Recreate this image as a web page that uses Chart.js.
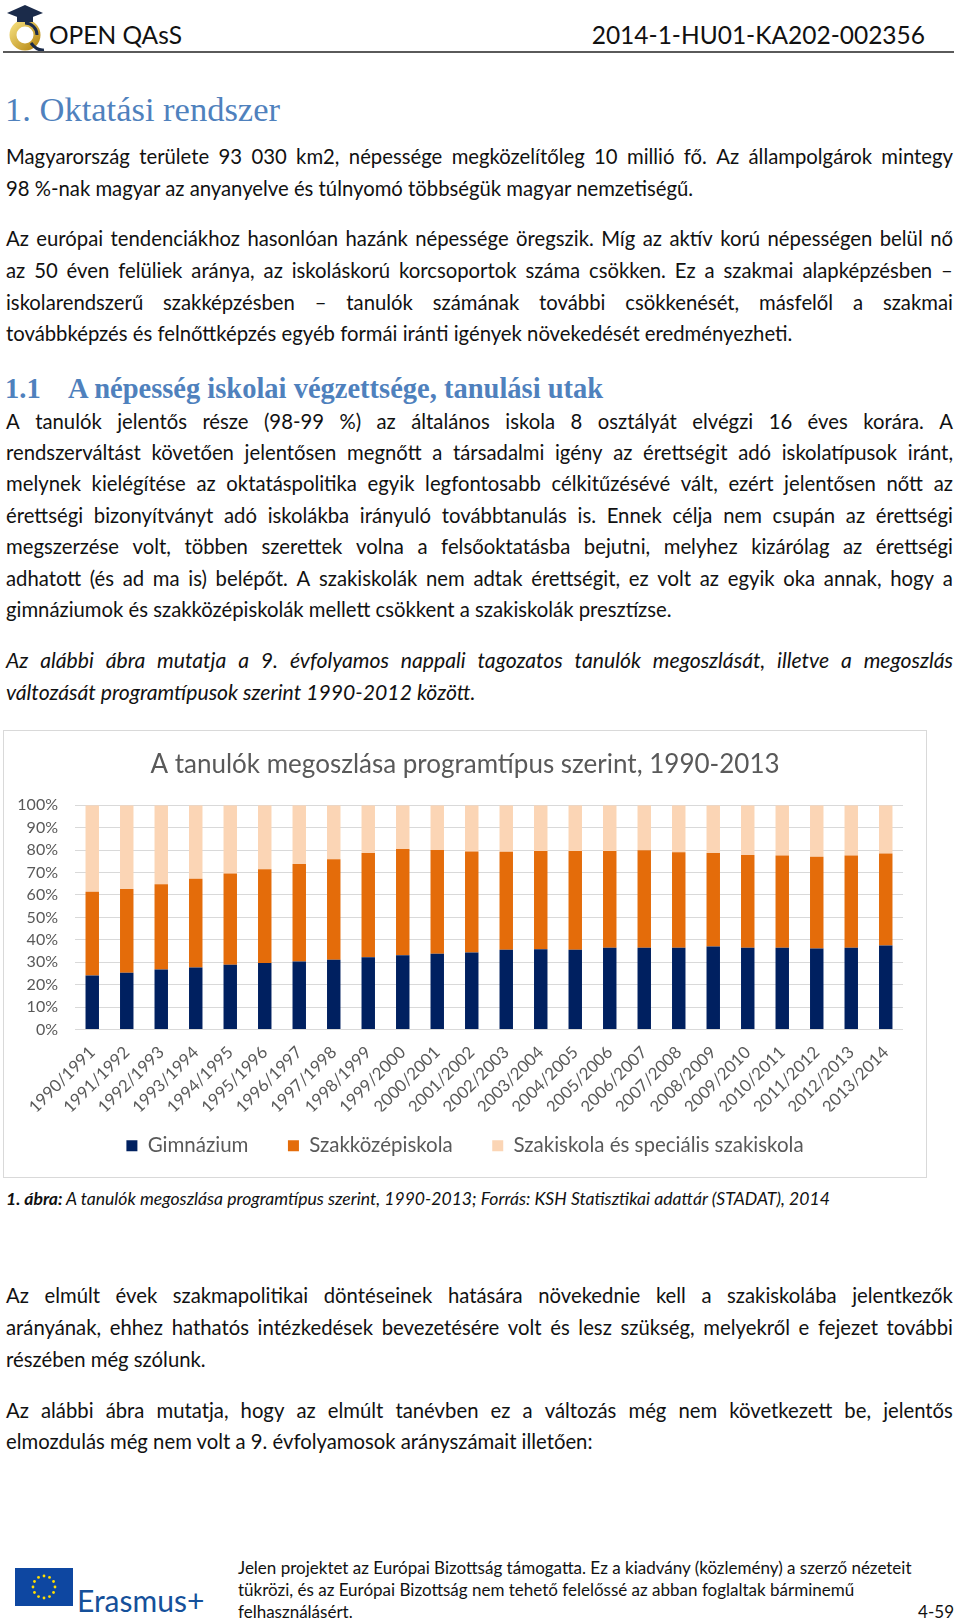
<!DOCTYPE html>
<html lang="hu">
<head>
<meta charset="utf-8">
<title>OPEN QAsS - Oktatási rendszer</title>
<script src="https://cdn.jsdelivr.net/npm/chart.js@4.4.1/dist/chart.umd.min.js"></script>
<style>
  html, body { margin: 0; padding: 0; background: #fff; }
  body { width: 960px; height: 1624px; position: relative; overflow: hidden; font-family: Lato, sans-serif; color: #111; }
  .ln { position: absolute; left: 6px; width: 947px; height: 32px; line-height: 32px; font-size: 20.3px; white-space: nowrap; }
  .j { display: flex; justify-content: space-between; }
  .it { font-style: italic; font-size: 21.2px; }
  .hdr { position: absolute; top: 18px; height: 34px; line-height: 34px; font-size: 24.5px; color: #111; }
  .rule { position: absolute; left: 3px; top: 51px; width: 951px; height: 2px; background: #5a5a5a; }
  .h1 { position: absolute; left: 5px; top: 88px; line-height: 42px; font-family: "Liberation Serif", serif; font-size: 34.5px; color: #4f81bd; }
  .h2 { position: absolute; top: 370px; line-height: 38px; font-family: "Liberation Serif", serif; font-weight: bold; font-size: 28.5px; color: #4f81bd; }
  #chartBox { position: absolute; left: 3px; top: 730px; width: 924px; height: 448px; border: 1px solid #d9d9d9; box-sizing: border-box; }
  #chart { display: block; }
  .cap { position: absolute; left: 6px; top: 1186px; line-height: 26px; font-size: 17.6px; font-style: italic; white-space: nowrap; }
  .foot { position: absolute; left: 238px; width: 700px; height: 22px; line-height: 22px; font-size: 17px; white-space: nowrap; }
</style>
</head>
<body>

<!-- fejléc -->
<svg style="position:absolute;left:4px;top:3px" width="44" height="50" viewBox="0 0 44 50">
  <defs>
    <linearGradient id="gold" x1="0" y1="0" x2="1" y2="1">
      <stop offset="0" stop-color="#f3dc7a"/>
      <stop offset="1" stop-color="#b88a16"/>
    </linearGradient>
  </defs>
  <circle cx="21" cy="32" r="12" fill="none" stroke="url(#gold)" stroke-width="7"/>
  <path d="M27 40 Q33 48 40 47" fill="none" stroke="#1b2b4a" stroke-width="3"/>
  <path d="M21 20 A12 12 0 0 1 33 32" fill="none" stroke="#1b2b4a" stroke-width="3"/>
  <polygon points="3,10 21,2 39,10 21,17" fill="#1b2b4a"/>
  <rect x="13" y="12" width="16" height="7" fill="#1b2b4a"/>
</svg>
<div class="hdr" style="left:49px">OPEN QAsS</div>
<div class="hdr" style="right:35px">2014-1-HU01-KA202-002356</div>
<div class="rule"></div>

<div class="h1">1. Oktatási rendszer</div>

<div class="ln j" style="top:140px">Magyarország területe 93 030 km2, népessége megközelítőleg 10 millió fő. Az állampolgárok mintegy</div>
<div class="ln" style="top:172px">98 %-nak magyar az anyanyelve és túlnyomó többségük magyar nemzetiségű.</div>

<div class="ln j" style="top:222px">Az európai tendenciákhoz hasonlóan hazánk népessége öregszik. Míg az aktív korú népességen belül nő</div>
<div class="ln j" style="top:254px">az 50 éven felüliek aránya, az iskoláskorú korcsoportok száma csökken. Ez a szakmai alapképzésben –</div>
<div class="ln j" style="top:286px">iskolarendszerű szakképzésben – tanulók számának további csökkenését, másfelől a szakmai</div>
<div class="ln" style="top:317px">továbbképzés és felnőttképzés egyéb formái iránti igények növekedését eredményezheti.</div>

<div class="h2" style="left:5px">1.1</div>
<div class="h2" style="left:68px">A népesség iskolai végzettsége, tanulási utak</div>

<div class="ln j" style="top:405px">A tanulók jelentős része (98-99 %) az általános iskola 8 osztályát elvégzi 16 éves korára.&nbsp; A</div>
<div class="ln j" style="top:436px">rendszerváltást követően jelentősen megnőtt a társadalmi igény az érettségit adó iskolatípusok iránt,</div>
<div class="ln j" style="top:467px">melynek kielégítése az oktatáspolitika egyik legfontosabb célkitűzésévé vált, ezért jelentősen nőtt az</div>
<div class="ln j" style="top:499px">érettségi bizonyítványt adó iskolákba irányuló továbbtanulás is. Ennek célja nem csupán az érettségi</div>
<div class="ln j" style="top:530px">megszerzése volt, többen szerettek volna a felsőoktatásba bejutni, melyhez kizárólag az érettségi</div>
<div class="ln j" style="top:562px">adhatott (és ad ma is) belépőt. A szakiskolák nem adtak érettségit, ez volt az egyik oka annak, hogy a</div>
<div class="ln" style="top:593px">gimnáziumok és szakközépiskolák mellett csökkent a szakiskolák presztízse.</div>

<div class="ln j it" style="top:644px">Az alábbi ábra mutatja a 9. évfolyamos nappali tagozatos tanulók megoszlását, illetve a megoszlás</div>
<div class="ln it" style="top:676px">változását programtípusok szerint 1990-2012 között.</div>

<div id="chartBox"><canvas id="chart" width="922" height="446"></canvas></div>

<div class="cap"><b>1. ábra:</b> A tanulók megoszlása programtípus szerint, 1990-2013; Forrás: KSH Statisztikai adattár (STADAT), 2014</div>

<div class="ln j" style="top:1279px">Az elmúlt évek szakmapolitikai döntéseinek hatására növekednie kell a szakiskolába jelentkezők</div>
<div class="ln j" style="top:1311px">arányának, ehhez hathatós intézkedések bevezetésére volt és lesz szükség, melyekről e fejezet további</div>
<div class="ln" style="top:1343px">részében még szólunk.</div>

<div class="ln j" style="top:1394px">Az alábbi ábra mutatja, hogy az elmúlt tanévben ez a változás még nem következett be, jelentős</div>
<div class="ln" style="top:1425px">elmozdulás még nem volt a 9. évfolyamosok arányszámait illetően:</div>

<!-- lábléc -->
<svg style="position:absolute;left:15px;top:1568px" width="58" height="38" viewBox="0 0 58 38">
  <rect width="58" height="38" fill="#0e47a1"/>
  <g id="stars" fill="#ffdd00"></g>
</svg>
<div style="position:absolute;left:77px;top:1583px;line-height:34px;font-size:30px;color:#15509a">Erasmus+</div>
<div class="foot" style="top:1557px">Jelen projektet az Európai Bizottság támogatta. Ez a kiadvány (közlemény) a szerző nézeteit</div>
<div class="foot" style="top:1579px">tükrözi, és az Európai Bizottság nem tehető felelőssé az abban foglaltak bárminemű</div>
<div class="foot" style="top:1601px">felhasználásért.</div>
<div class="foot" style="top:1601px;left:auto;right:6px;width:auto">4-59</div>

<script>
// tanévek
const categories = [
    '1990/1991', '1991/1992', '1992/1993', '1993/1994', '1994/1995', '1995/1996',
    '1996/1997', '1997/1998', '1998/1999', '1999/2000', '2000/2001', '2001/2002',
    '2002/2003', '2003/2004', '2004/2005', '2005/2006', '2006/2007', '2007/2008',
    '2008/2009', '2009/2010', '2010/2011', '2011/2012', '2012/2013', '2013/2014'
];

// arányok (%)
const gimnazium = [24.1, 25.3, 26.7, 27.6, 28.9, 29.7, 30.3, 31.1, 32.2, 33.1, 33.8, 34.3,
    35.6, 35.8, 35.6, 36.4, 36.5, 36.4, 37.0, 36.4, 36.4, 36.1, 36.4, 37.4];
const szakkozep = [37.3, 37.3, 38.1, 39.6, 40.7, 41.7, 43.5, 44.8, 46.5, 47.4, 46.2, 45.1,
    43.7, 43.8, 44.0, 43.2, 43.4, 42.6, 41.7, 41.4, 41.2, 40.9, 41.2, 41.1];
const szakiskola = [38.6, 37.4, 35.2, 32.8, 30.4, 28.6, 26.2, 24.1, 21.3, 19.5, 20.0, 20.6,
    20.7, 20.4, 20.4, 20.4, 20.1, 21.0, 21.3, 22.2, 22.4, 23.0, 22.4, 21.5];

const seriesNames = ['Gimnázium', 'Szakközépiskola', 'Szakiskola és speciális szakiskola'];
const seriesColors = ['#002060', '#e46c0a', '#fbd5b5'];
const yTicks = [0, 10, 20, 30, 40, 50, 60, 70, 80, 90, 100];

// sorkizárt sorok: szavak szétosztása
document.querySelectorAll('.j').forEach(function (el) {
    const words = el.textContent.trim().split(/\s+/);
    el.textContent = '';
    for (const w of words) {
        const s = document.createElement('span');
        s.textContent = w;
        el.appendChild(s);
    }
});

// EU zászló csillagai
const stars = document.getElementById('stars');
for (let i = 0; i < 12; i++) {
    const a = i * Math.PI / 6;
    const c = document.createElementNS('http://www.w3.org/2000/svg', 'circle');
    c.setAttribute('cx', (29 + 11 * Math.cos(a)).toFixed(2));
    c.setAttribute('cy', (19 + 11 * Math.sin(a)).toFixed(2));
    c.setAttribute('r', '1.4');
    stars.appendChild(c);
}

const grey = '#595959';
Chart.defaults.font.family = 'Lato, sans-serif';

new Chart(document.getElementById('chart'), {
    type: 'bar',
    data: {
        labels: categories,
        datasets: [
            { label: seriesNames[0], data: gimnazium, backgroundColor: seriesColors[0] },
            { label: seriesNames[1], data: szakkozep, backgroundColor: seriesColors[1] },
            { label: seriesNames[2], data: szakiskola, backgroundColor: seriesColors[2] }
        ]
    },
    options: {
        responsive: false,
        animation: false,
        layout: { padding: { top: 18, right: 0, bottom: 11, left: 0 } },
        datasets: { bar: { categoryPercentage: 1, barPercentage: 0.39 } },
        plugins: {
            title: {
                display: true,
                text: 'A tanulók megoszlása programtípus szerint, 1990-2013',
                color: grey,
                font: { size: 26, weight: 'normal' },
                padding: { top: 0, bottom: 25 }
            },
            legend: {
                position: 'bottom',
                labels: {
                    color: grey, font: { size: 20.5 }, boxWidth: 11, boxHeight: 11, padding: 24,
                    generateLabels: function (chart) {
                        const items = Chart.defaults.plugins.legend.labels.generateLabels(chart);
                        // nagyobb köz a tételek között
                        items.forEach((it, i) => { if (i < items.length - 1) it.text += '\u2002 '; });
                        return items;
                    }
                }
            },
            tooltip: { enabled: false }
        },
        scales: {
            x: {
                stacked: true,
                grid: { display: false, drawTicks: false },
                border: { display: false },
                ticks: { color: grey, font: { size: 16.8 }, minRotation: 45, maxRotation: 45, autoSkip: false, padding: 13 },
                afterFit: function (s) { s.height = 82; }
            },
            y: {
                stacked: true,
                min: 0,
                max: 100,
                afterBuildTicks: function (s) { s.ticks = yTicks.map(v => ({ value: v })); },
                ticks: { color: grey, font: { size: 16 }, padding: 17, callback: v => v + '%' },
                grid: { color: '#d9d9d9', drawTicks: false },
                border: { display: false },
                afterFit: function (s) { s.width = 71; }
            },
            // üres jobb oldali sáv, hogy a cím és jelmagyarázat a vászon közepére kerüljön
            yRight: {
                position: 'right',
                display: true,
                grid: { display: false, drawTicks: false },
                border: { display: false },
                ticks: { display: false },
                afterFit: function (s) { s.width = 23; }
            }
        }
    }
});
</script>
</body>
</html>
